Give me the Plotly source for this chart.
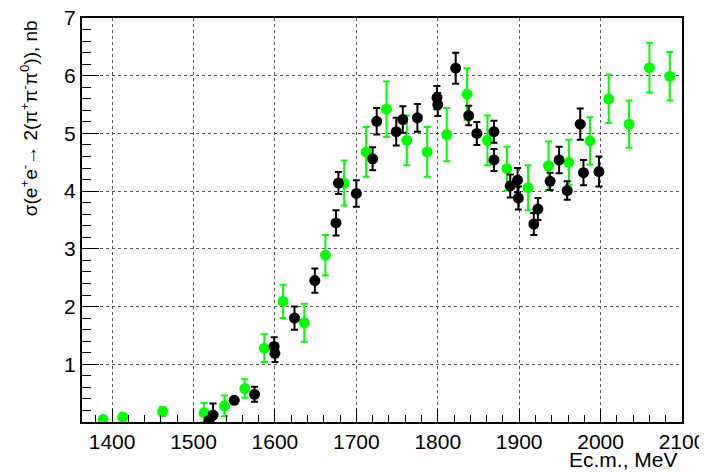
import plotly.graph_objects as go

# Black data set
black_E = [1519, 1524, 1550, 1575, 1599, 1600, 1624, 1649, 1675, 1678, 1700, 1720,
           1725, 1749, 1757, 1775, 1799, 1800, 1822, 1838, 1848, 1869, 1869,
           1889, 1898, 1899, 1918, 1923, 1938, 1949, 1959, 1975, 1979, 1998]
black_v = [0.03, 0.12, 0.375, 0.48, 1.31, 1.19, 1.80, 2.45, 3.45, 4.14, 3.96, 4.56,
           5.21, 5.03, 5.24, 5.27, 5.62, 5.50, 6.13, 5.31, 5.00, 5.03, 4.54,
           4.09, 4.19, 3.88, 3.43, 3.69, 4.17, 4.54, 4.01, 5.16, 4.32, 4.34]
black_err = [0.05, 0.2, 0.05, 0.13, 0.16, 0.15, 0.2, 0.21, 0.22, 0.19, 0.23, 0.2,
             0.23, 0.24, 0.23, 0.24, 0.2, 0.2, 0.27, 0.17, 0.2, 0.19, 0.19,
             0.2, 0.21, 0.2, 0.19, 0.19, 0.15, 0.23, 0.16, 0.27, 0.22, 0.26]

# Green data set
green_E = [1389, 1413, 1462, 1513, 1538, 1563, 1587, 1610, 1636, 1662, 1685, 1712,
           1737, 1762, 1787, 1811, 1836, 1861, 1885, 1911, 1936, 1961, 1987,
           2010, 2035, 2060, 2085]
green_v = [0.045, 0.085, 0.18, 0.16, 0.28, 0.58, 1.28, 2.09, 1.72, 2.89, 4.14, 4.68,
           5.42, 4.88, 4.68, 4.98, 5.68, 4.88, 4.39, 4.06, 4.44, 4.50, 4.87,
           5.60, 5.16, 6.14, 5.99]
green_err = [0.05, 0.06, 0.08, 0.17, 0.18, 0.16, 0.24, 0.29, 0.33, 0.35, 0.39, 0.43,
             0.48, 0.43, 0.43, 0.46, 0.45, 0.43, 0.38, 0.39, 0.42, 0.39, 0.41,
             0.42, 0.41, 0.43, 0.42]

x_ticks = [1400, 1500, 1600, 1700, 1800, 1900, 2000, 2100]
y_ticks = [1, 2, 3, 4, 5, 6, 7]

FONT = "Liberation Sans, Arial, Helvetica, sans-serif"

fig = go.Figure()
fig.add_trace(go.Scatter(
    x=green_E, y=green_v, mode="markers",
    marker=dict(color="#00ff00", size=11, symbol="circle"),
    error_y=dict(type="data", array=green_err, color="#00ff00", thickness=2, width=3.5),
    showlegend=False, cliponaxis=True,
))
fig.add_trace(go.Scatter(
    x=black_E, y=black_v, mode="markers",
    marker=dict(color="black", size=11, symbol="circle"),
    error_y=dict(type="data", array=black_err, color="black", thickness=2, width=3.5),
    showlegend=False, cliponaxis=True,
))

fig.update_layout(
    width=707, height=472,
    margin=dict(l=74, r=33, t=10, b=58, autoexpand=False),
    paper_bgcolor="white", plot_bgcolor="white",
    font=dict(family=FONT, size=21, color="black"),
    xaxis=dict(
        range=[1363, 2100], tickvals=x_ticks, ticktext=[str(v) for v in x_ticks],
        ticks="inside", ticklen=13, tickwidth=1, tickcolor="black",
        showgrid=True, gridcolor="#555555", griddash="dot", gridwidth=1,
        showline=True, linecolor="black", linewidth=2, mirror=True,
        zeroline=False, automargin=False, ticklabeloverflow="allow",
        minor=dict(tickmode="linear", tick0=1400, dtick=20, ticks="inside",
                   ticklen=7, tickcolor="black", showgrid=False),
        tickfont=dict(size=21),
    ),
    yaxis=dict(
        range=[0, 7], tickvals=y_ticks, ticktext=[str(v) for v in y_ticks],
        ticks="inside", ticklen=17, tickwidth=1, tickcolor="black",
        showgrid=True, gridcolor="#555555", griddash="dot", gridwidth=1,
        showline=True, linecolor="black", linewidth=2, mirror=True,
        zeroline=False, automargin=False, ticklabeloverflow="allow",
        minor=dict(tickmode="linear", tick0=0, dtick=0.2, ticks="inside",
                   ticklen=9, tickcolor="black", showgrid=False),
        tickfont=dict(size=21),
    ),
    annotations=[
        dict(text="Ec.m., MeV", xref="paper", yref="paper", x=0.997, y=-0.06,
             xanchor="right", yanchor="top", showarrow=False,
             font=dict(size=21, family=FONT)),
        dict(text="σ(e<sup>+</sup>e<sup>-</sup>→ 2(π<sup>+</sup>π<sup>-</sup>π<sup>0</sup>)), nb",
             xref="paper", yref="paper", x=-0.088, y=1.0,
             xanchor="center", yanchor="top", textangle=-90, showarrow=False,
             font=dict(size=19, family=FONT)),
    ],
)

fig.write_html("out.html")
